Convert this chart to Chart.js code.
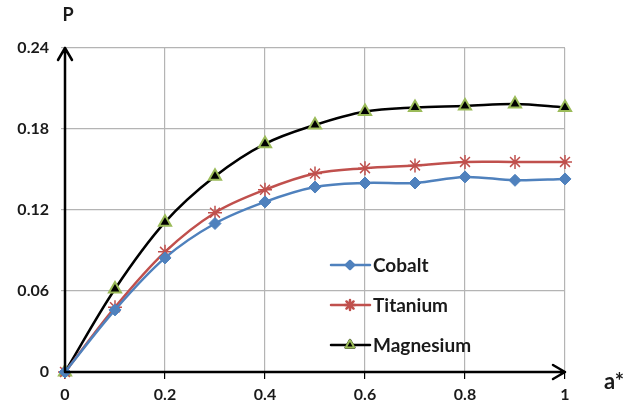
<!DOCTYPE html>
<html>
<head>
<meta charset="utf-8">
<script src="https://cdn.jsdelivr.net/npm/chart.js@4"></script>
<style>
  body { margin: 0; background: #fff; }
  #wrap { width: 638px; height: 415px; }
</style>
</head>
<body>
<div id="wrap"><canvas id="chart" width="638" height="415"></canvas></div>
<script>
const aStar = [0, 0.1, 0.2, 0.3, 0.4, 0.5, 0.6, 0.7, 0.8, 0.9, 1];
const cobalt = [0, 0.046, 0.0845, 0.110, 0.126, 0.137, 0.140, 0.140, 0.1445, 0.142, 0.143];
const titanium = [0, 0.048, 0.089, 0.118, 0.135, 0.147, 0.151, 0.153, 0.1556, 0.1556, 0.1556];
const magnesium = [0, 0.0615, 0.111, 0.145, 0.169, 0.183, 0.193, 0.196, 0.197, 0.1985, 0.196];
const yTicks = [0, 0.06, 0.12, 0.18, 0.24];
const xTicks = [0, 0.2, 0.4, 0.6, 0.8, 1];

const FONT = 'Lato, "Liberation Sans", sans-serif';

function pts(ys) {
  return aStar.map((x, i) => ({x: x, y: ys[i]}));
}

// axis arrows, axis titles and the legend inside the plot
const extras = {
  id: 'extras',
  afterDraw(chart) {
    let ctx = chart.ctx;
    let a = chart.chartArea;
    ctx.save();
    ctx.strokeStyle = '#000';
    ctx.lineWidth = 2.5;
    ctx.lineCap = 'round';
    ctx.lineJoin = 'round';
    ctx.beginPath();
    ctx.moveTo(a.left, a.bottom);
    ctx.lineTo(a.left, a.top);
    ctx.moveTo(a.left - 7, a.top + 12);
    ctx.lineTo(a.left, a.top);
    ctx.lineTo(a.left + 7, a.top + 12);
    ctx.moveTo(a.left, a.bottom);
    ctx.lineTo(a.right, a.bottom);
    ctx.moveTo(a.right - 12, a.bottom - 7);
    ctx.lineTo(a.right, a.bottom);
    ctx.lineTo(a.right - 12, a.bottom + 7);
    ctx.stroke();

    ctx.fillStyle = '#1a1a1a';
    ctx.font = 'bold 18px ' + FONT;
    ctx.textAlign = 'center';
    ctx.textBaseline = 'middle';
    ctx.fillText('P', 68, 15);
    ctx.font = 'bold 22px ' + FONT;
    ctx.fillText('a*', 614, 382);

    // legend
    let y = 265;
    ctx.textAlign = 'left';
    ctx.font = 'bold 19px ' + FONT;
    chart.data.datasets.forEach(ds => {
      ctx.strokeStyle = ds.borderColor;
      ctx.lineWidth = 2.5;
      ctx.beginPath();
      ctx.moveTo(331, y);
      ctx.lineTo(370, y);
      ctx.stroke();
      Chart.helpers.drawPoint(ctx, {
        pointStyle: ds.pointStyle,
        radius: ds.pointRadius - 2,
        rotation: 0,
        borderWidth: ds.pointBorderWidth
      }, 350, y);
      ctx.fillStyle = ds.pointBackgroundColor;
      ctx.strokeStyle = ds.pointBorderColor;
      ctx.lineWidth = ds.pointBorderWidth;
      ctx.fill();
      ctx.stroke();
      ctx.fillStyle = '#1a1a1a';
      ctx.fillText(ds.label, 373, y + 1);
      y += 40;
    });
    ctx.restore();
  }
};

new Chart(document.getElementById('chart'), {
  type: 'line',
  data: {
    datasets: [{
      label: 'Cobalt',
      data: pts(cobalt),
      borderColor: '#4f81bd',
      borderWidth: 2.5,
      pointStyle: 'rectRot',
      pointRadius: 6,
      pointBackgroundColor: '#4f81bd',
      pointBorderColor: '#4f81bd',
      pointBorderWidth: 1,
      tension: 0.35,
      clip: false
    },
    {
      label: 'Titanium',
      data: pts(titanium),
      borderColor: '#c0504d',
      borderWidth: 2.5,
      pointStyle: 'star',
      pointRadius: 7,
      pointBackgroundColor: '#c0504d',
      pointBorderColor: '#c0504d',
      pointBorderWidth: 1.5,
      tension: 0.35,
      clip: false
    },
    {
      label: 'Magnesium',
      data: pts(magnesium),
      borderColor: '#000000',
      borderWidth: 2.5,
      pointStyle: 'triangle',
      pointRadius: 7,
      pointBackgroundColor: '#000000',
      pointBorderColor: '#9bbb59',
      pointBorderWidth: 2,
      tension: 0.35,
      clip: false
    }]
  },
  options: {
    responsive: false,
    animation: false,
    events: [],
    layout: {padding: {top: 48, right: 73, left: 0, bottom: 0}},
    plugins: {
      legend: {display: false},
      tooltip: {enabled: false}
    },
    scales: {
      x: {
        type: 'linear',
        min: 0,
        max: 1,
        afterBuildTicks: (scale) => { scale.ticks = xTicks.map(v => ({value: v})); },
        afterFit: (scale) => { scale.height = 43; },
        border: {display: false},
        grid: {color: '#b4b4b4', lineWidth: 1.2, tickLength: 7, tickColor: '#000'},
        ticks: {
          color: '#1a1a1a',
          padding: 6,
          maxRotation: 0,
          font: {family: FONT, size: 16, weight: 'bold'},
          callback: (v) => +v.toFixed(1)
        }
      },
      y: {
        min: 0,
        max: 0.24,
        afterBuildTicks: (scale) => { scale.ticks = yTicks.map(v => ({value: v})); },
        afterFit: (scale) => { scale.width = 65; },
        border: {display: false},
        grid: {color: '#b4b4b4', lineWidth: 1.2, tickLength: 4},
        ticks: {
          color: '#1a1a1a',
          padding: 12,
          font: {family: FONT, size: 16, weight: 'bold'},
          callback: (v) => +v.toFixed(2)
        }
      }
    }
  },
  plugins: [extras]
});
</script>
</body>
</html>
